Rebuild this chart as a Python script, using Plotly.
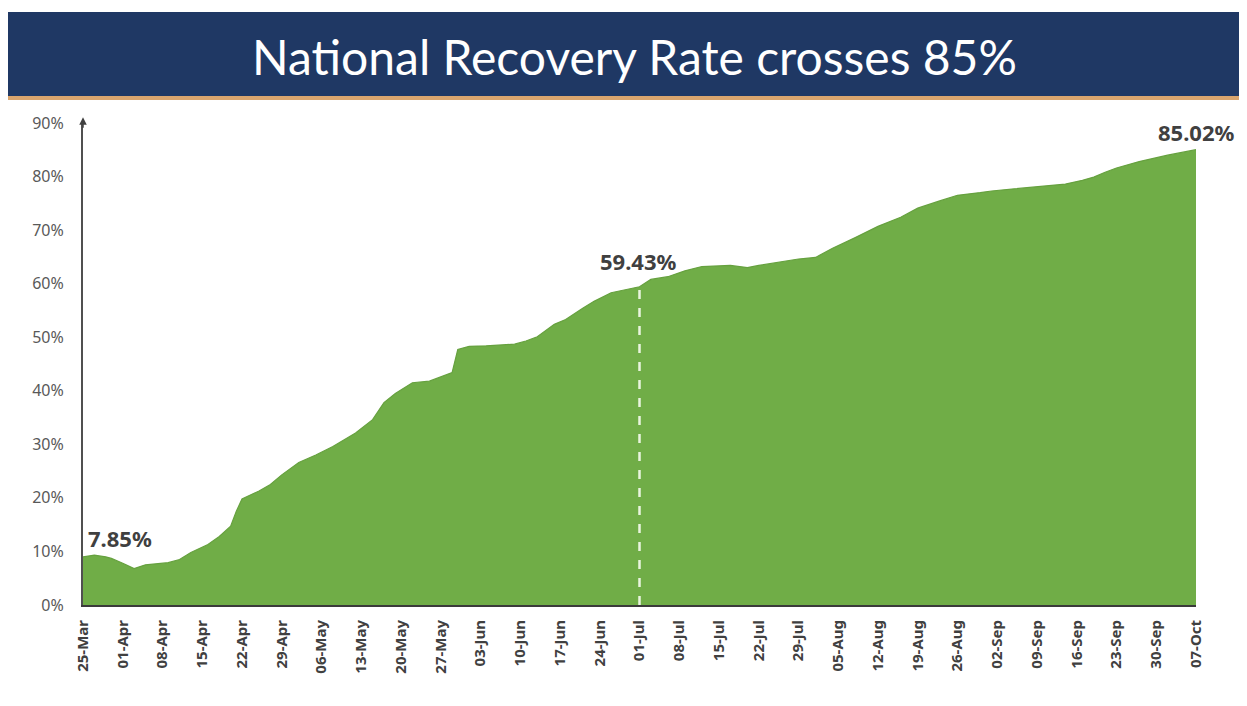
import plotly.graph_objects as go

# ---------------- data ----------------
dates = ["2020-03-25", "2020-03-27", "2020-03-29", "2020-03-30", "2020-04-01", "2020-04-03",
         "2020-04-05", "2020-04-07", "2020-04-09", "2020-04-11", "2020-04-13", "2020-04-16",
         "2020-04-18", "2020-04-20", "2020-04-21", "2020-04-22", "2020-04-25", "2020-04-27",
         "2020-04-29", "2020-05-02", "2020-05-05", "2020-05-08", "2020-05-12", "2020-05-15",
         "2020-05-17", "2020-05-19", "2020-05-22", "2020-05-25", "2020-05-28", "2020-05-29",
         "2020-05-30", "2020-06-01", "2020-06-04", "2020-06-09", "2020-06-11", "2020-06-13",
         "2020-06-16", "2020-06-18", "2020-06-21", "2020-06-23", "2020-06-26", "2020-06-29",
         "2020-07-01", "2020-07-03", "2020-07-06", "2020-07-09", "2020-07-12", "2020-07-17",
         "2020-07-20", "2020-07-22", "2020-07-26", "2020-07-29", "2020-08-01", "2020-08-04",
         "2020-08-08", "2020-08-12", "2020-08-16", "2020-08-19", "2020-08-23", "2020-08-26",
         "2020-08-30", "2020-09-01", "2020-09-05", "2020-09-08", "2020-09-11", "2020-09-14",
         "2020-09-17", "2020-09-19", "2020-09-21", "2020-09-23", "2020-09-27", "2020-10-02",
         "2020-10-07"]
recovery_rate = [9.0, 9.3, 9.0, 8.7, 7.8, 6.8,
                 7.5, 7.7, 7.9, 8.5, 9.8, 11.3,
                 12.8, 14.7, 17.5, 19.8, 21.3, 22.5,
                 24.3, 26.6, 28.0, 29.6, 32.1, 34.6,
                 37.8, 39.5, 41.5, 41.8, 42.9, 43.4,
                 47.7, 48.3, 48.4, 48.7, 49.3, 50.1,
                 52.4, 53.3, 55.4, 56.7, 58.3, 59.0,
                 59.43, 60.8, 61.3, 62.4, 63.2, 63.4,
                 63.0, 63.4, 64.1, 64.6, 64.9, 66.6,
                 68.6, 70.7, 72.4, 74.1, 75.5, 76.5,
                 77.0, 77.3, 77.7, 78.0, 78.3, 78.6,
                 79.3, 79.9, 80.8, 81.6, 82.8, 84.0,
                 85.02]

tick_dates = ["2020-03-25", "2020-04-01", "2020-04-08", "2020-04-15", "2020-04-22", "2020-04-29",
              "2020-05-06", "2020-05-13", "2020-05-20", "2020-05-27", "2020-06-03", "2020-06-10",
              "2020-06-17", "2020-06-24", "2020-07-01", "2020-07-08", "2020-07-15", "2020-07-22",
              "2020-07-29", "2020-08-05", "2020-08-12", "2020-08-19", "2020-08-26", "2020-09-02",
              "2020-09-09", "2020-09-16", "2020-09-23", "2020-09-30", "2020-10-07"]
tick_labels = ["25-Mar", "01-Apr", "08-Apr", "15-Apr", "22-Apr", "29-Apr",
               "06-May", "13-May", "20-May", "27-May", "03-Jun", "10-Jun",
               "17-Jun", "24-Jun", "01-Jul", "08-Jul", "15-Jul", "22-Jul",
               "29-Jul", "05-Aug", "12-Aug", "19-Aug", "26-Aug", "02-Sep",
               "09-Sep", "16-Sep", "23-Sep", "30-Sep", "07-Oct"]

y_ticks = [0, 10, 20, 30, 40, 50, 60, 70, 80, 90]
y_tick_labels = ["0%", "10%", "20%", "30%", "40%", "50%", "60%", "70%", "80%", "90%"]

title_text = "National Recovery Rate crosses 85%"
callouts = [("2020-03-25", "7.85%"), ("2020-07-01", "59.43%"), ("2020-10-07", "85.02%")]
marker_date = "2020-07-01"
marker_value = 59.43

# ---------------- figure ----------------
# page body has an 8px margin, so the figure sits at (8, 8) in the window
OFF = 8
W, H = 1239, 698
ml, mr, mt, mb = 75, 51, 115, 101
pw, ph = W - ml - mr, H - mt - mb

def px_x(x):  # window pixel -> paper
    return (x - OFF - ml) / pw

def px_y(y):
    return (H - mb - (y - OFF)) / ph

fig = go.Figure()

fig.add_trace(go.Scatter(
    x=dates, y=recovery_rate, mode="lines", fill="tozeroy",
    fillcolor="#70AD47", line=dict(color="#66a13f", width=1.2),
    hoverinfo="skip", showlegend=False))

fig.add_trace(go.Scatter(
    x=[marker_date, marker_date], y=[0, marker_value], mode="lines",
    line=dict(color="rgba(240,248,232,0.95)", width=2.5, dash="dash"),
    hoverinfo="skip", showlegend=False))

# banner
fig.add_shape(type="rect", xref="paper", yref="paper",
              x0=px_x(8), x1=px_x(1250), y0=px_y(96), y1=px_y(12),
              fillcolor="#1F3864", line=dict(width=0), layer="below")
fig.add_shape(type="rect", xref="paper", yref="paper",
              x0=px_x(8), x1=px_x(1250), y0=px_y(100), y1=px_y(96),
              fillcolor="#d9a56e", line=dict(width=0), layer="below")
fig.add_annotation(xref="paper", yref="paper", x=px_x(634), y=px_y(56),
                   text=title_text, showarrow=False, xanchor="center", yanchor="middle",
                   font=dict(family="Lato", size=48, color="white"))

# axis arrow
fig.add_annotation(xref="paper", yref="paper", x=0, y=1.012, ax=0, ay=12,
                   text="", showarrow=True, arrowhead=2, arrowsize=1,
                   arrowwidth=1.5, arrowcolor="#404040")

# callouts
ann_font = dict(family="Noto Sans", size=22, color="#404040", weight="bold")
fig.add_annotation(x=callouts[0][0], y=recovery_rate[0], text=callouts[0][1],
                   showarrow=False, xanchor="left", yanchor="bottom",
                   xshift=3, yshift=2, font=ann_font)
fig.add_annotation(x=callouts[1][0], y=marker_value, text=callouts[1][1],
                   showarrow=False, xanchor="center", yanchor="bottom",
                   xshift=-1, yshift=9, font=ann_font)
fig.add_annotation(x=callouts[2][0], y=recovery_rate[-1], text=callouts[2][1],
                   showarrow=False, xanchor="center", yanchor="bottom",
                   yshift=1, font=ann_font)

fig.update_layout(
    width=W, height=H,
    margin=dict(l=ml, r=mr, t=mt, b=mb, pad=0),
    paper_bgcolor="white", plot_bgcolor="white",
    xaxis=dict(type="date", range=[dates[0], dates[-1]],
               tickvals=tick_dates, ticktext=tick_labels, tickangle=-90,
               tickfont=dict(family="Noto Sans", size=15, color="#404040", weight="bold"),
               showgrid=False, zeroline=False, showline=True,
               linecolor="#3a3a3a", linewidth=2,
               ticks="outside", ticklen=7, tickcolor="rgba(0,0,0,0)"),
    yaxis=dict(range=[0, 90], tickvals=y_ticks, ticktext=y_tick_labels,
               tickfont=dict(family="Noto Sans", size=16, color="#595959"),
               showgrid=False, zeroline=False, showline=True,
               linecolor="#505050", linewidth=2,
               ticks="outside", ticklen=14, tickcolor="rgba(0,0,0,0)"),
)

fig.write_html("out.html")
